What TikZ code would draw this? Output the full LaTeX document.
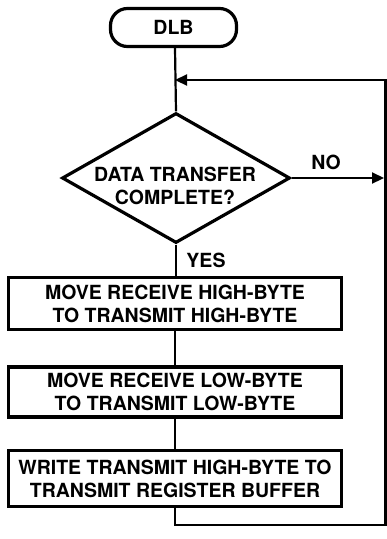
\documentclass[tikz,border=0pt]{standalone}
\usepackage{fontspec}
\setsansfont{TeX Gyre Heros}
\usepackage{tikz}
\usetikzlibrary{shapes.geometric, arrows.meta}

\begin{document}
\begin{tikzpicture}[x=1pt, y=-1pt,
  every node/.style={inner sep=0pt, font=\sffamily\bfseries\fontsize{19.5}{23}\selectfont, align=center},
  term/.style={draw, line width=3.2pt, rounded corners=17pt, minimum width=126pt, minimum height=38pt},
  decide/.style={draw, diamond, line width=3.2pt, minimum width=228pt, minimum height=130pt},
  procbox/.style={draw, line width=3.2pt, minimum width=333pt},
  flow/.style={line width=2.2pt},
  arrow/.style={flow, -{Triangle[length=12pt, width=11pt]}}]
\useasboundingbox (0,0) rectangle (387,539);
\node[term] (dlb) at (173.5,27.5) {DLB};
\node[decide] (test) at (176,178) {};
\node (testtext) at (175,186) {DATA TRANSFER\\COMPLETE?};
\node[procbox, minimum height=52pt] (movehi) at (175,303.5) {MOVE RECEIVE HIGH-BYTE\\TO TRANSMIT HIGH-BYTE};
\node[procbox, minimum height=50pt] (movelo) at (175,392) {MOVE RECEIVE LOW-BYTE\\TO TRANSMIT LOW-BYTE};
\node[procbox, minimum height=56pt] (write) at (175,478.5) {WRITE TRANSMIT HIGH-BYTE TO\\TRANSMIT REGISTER BUFFER};
% loop corners
\coordinate (loopin) at (175,80);
\coordinate (ne) at (385.5,80);
\coordinate (se) at (385.5,525);
\coordinate (bot) at (175,525);
\coordinate (noend) at (384,178);
\draw[flow] (dlb.south -| loopin) -- (test.north);
\draw[flow] (test.south) -- (movehi.north -| test.south);
\draw[flow] (movehi.south -| loopin) -- (movelo.north -| loopin);
\draw[flow] (movelo.south -| loopin) -- (write.north -| loopin);
\draw[arrow] (write.south -| loopin) -- (bot) -- (se) -- (ne) -- (loopin);
\draw[arrow] (test.east) -- (noend);
\node (no) at (326,162) {NO};
\node (yes) at (206,260) {YES};
\end{tikzpicture}
\end{document}
